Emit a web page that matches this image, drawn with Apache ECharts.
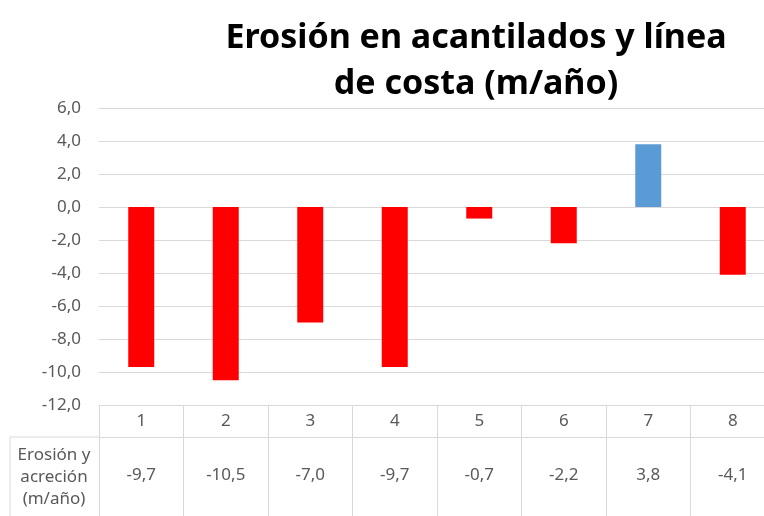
<!DOCTYPE html>
<html lang="es">
<head>
    <meta charset="UTF-8">
    <title>Erosión en acantilados</title>
    <script src="https://cdn.jsdelivr.net/npm/echarts@6/dist/echarts.min.js"></script>
    <style>
        html, body { margin: 0; padding: 0; background: #fff; }
    </style>
</head>
<body>
    <div id="main" style="width: 764px;height: 516px;"></div>

    <script type="text/javascript">
        // datos
        var categories = ['1', '2', '3', '4', '5', '6', '7', '8'];
        var values = [-9.7, -10.5, -7.0, -9.7, -0.7, -2.2, 3.8, -4.1];
        var rowTitle = 'Erosión y\nacreción\n(m/año)';
        var yMin = -12, yMax = 6, yStep = 2;

        var font = "'Noto Sans', sans-serif";
        var gray = '#595959';
        var lineColor = '#d9d9d9';

        function fmt(v) {
            return v.toFixed(1).replace('.', ',');
        }

        var myChart = echarts.init(document.getElementById('main'));
        var option = {
            backgroundColor: '#fff',
            animation: false,
            title: {
                text: 'Erosión en acantilados y línea\nde costa (m/año)',
                left: 471,
                top: 10,
                textAlign: 'center',
                textStyle: {
                    fontFamily: font,
                    fontWeight: 'bold',
                    fontSize: 34,
                    lineHeight: 46,
                    color: '#000'
                }
            },
            grid: {
                left: 99,
                top: 108,
                bottom: 111,
                width: 676,
                outerBoundsMode: 'none',
                containLabel: false
            },
            xAxis: [{
                type: 'category',
                data: categories,
                position: 'bottom',
                axisLine: { onZero: false, lineStyle: { color: lineColor, width: 1 } },
                axisTick: { show: true, length: 111, lineStyle: { color: lineColor } },
                axisLabel: { margin: 8, fontFamily: font, fontSize: 17, color: gray },
                splitLine: { show: false }
            }, {
                type: 'category',
                data: values.map(fmt),
                position: 'bottom',
                offset: 32,
                axisLine: { onZero: false, lineStyle: { color: lineColor, width: 1 } },
                axisTick: { show: false },
                axisLabel: { margin: 30, fontFamily: font, fontSize: 17, color: gray },
                splitLine: { show: false }
            }],
            yAxis: {
                type: 'value',
                min: yMin,
                max: yMax,
                interval: yStep,
                axisLine: { show: false },
                axisTick: { show: false },
                axisLabel: {
                    margin: 18,
                    fontFamily: font,
                    fontSize: 17,
                    color: gray,
                    formatter: function (v) { return fmt(v); }
                },
                splitLine: { lineStyle: { color: lineColor, width: 1 } }
            },
            graphic: [{
                type: 'polyline',
                shape: { points: [[99, 437], [10, 437], [10, 516]] },
                style: { stroke: lineColor, lineWidth: 1, fill: null },
                silent: true
            }, {
                type: 'text',
                x: 54,
                y: 444,
                style: {
                    text: rowTitle,
                    fontFamily: font,
                    fontSize: 17,
                    lineHeight: 22,
                    fill: gray,
                    align: 'center',
                    verticalAlign: 'top'
                }
            }],
            series: [{
                type: 'bar',
                xAxisIndex: 0,
                barWidth: 26,
                data: values,
                itemStyle: {
                    color: function (p) {
                        return p.value < 0 ? '#ff0000' : '#5b9bd5';
                    }
                }
            }]
        };
        myChart.setOption(option);
    </script>
</body>
</html>
